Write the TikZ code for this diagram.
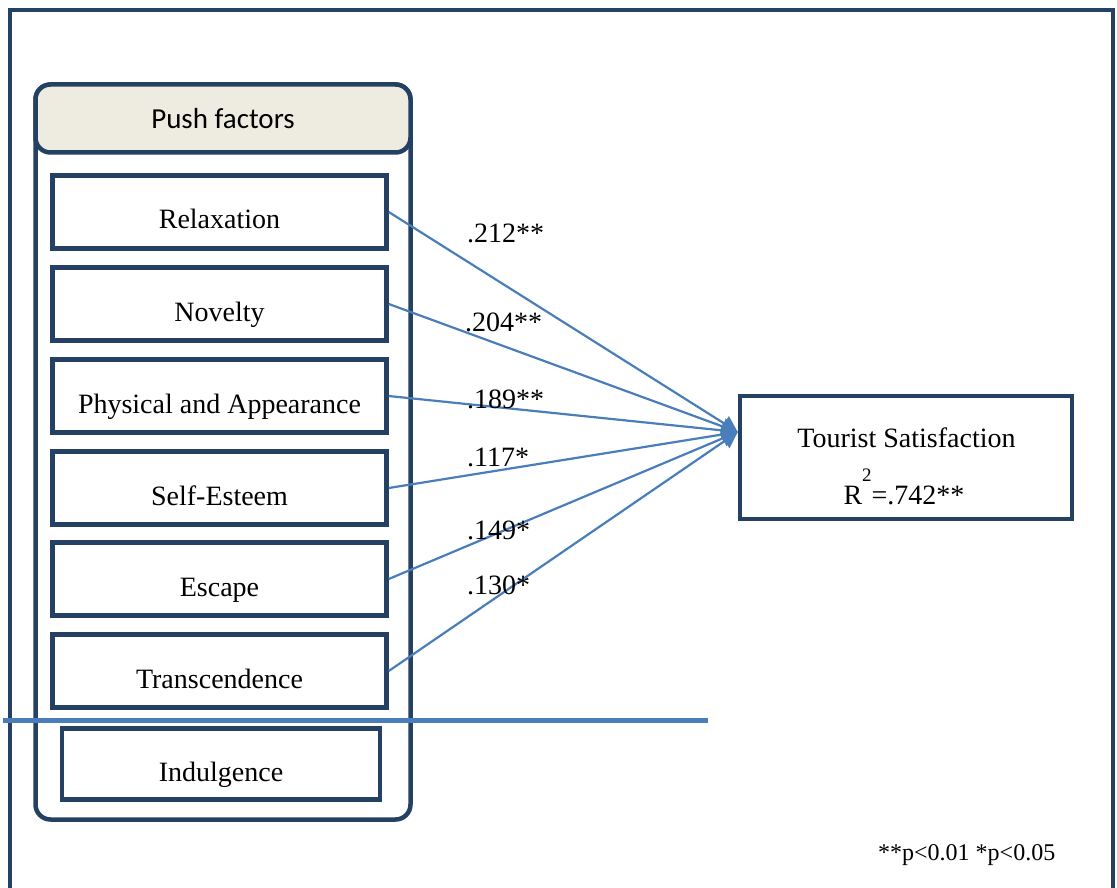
\documentclass[tikz,border=0pt]{standalone}
\usepackage{fontspec}
\setmainfont{Liberation Serif}
\newfontfamily\headfont{Carlito}
\usetikzlibrary{calc,arrows.meta}
\definecolor{navy}{RGB}{36,64,98}
\definecolor{pathblue}{RGB}{74,126,187}
\definecolor{headfill}{RGB}{238,236,225}
\begin{document}
\begin{tikzpicture}[x=1pt,y=-1pt,
  factor/.style={draw=navy, line width=4.5pt, fill=white, minimum width=334pt,
    minimum height=73pt, inner sep=0pt, font=\fontsize{28}{34}\selectfont,
    text height=34pt, text depth=0pt},
  coef/.style={anchor=base west, inner sep=0pt, font=\fontsize{28}{34}\selectfont},
  path/.style={draw=pathblue, line width=2.2pt, -{Triangle[length=16pt,width=17pt]}}]
\useasboundingbox (0,0) rectangle (1117,888);

% outer frame, open at the bottom
\draw[navy, line width=4.5pt] (10,888) -- (10,10) -- (1113,10) -- (1113,888);

% container of the push factors with its header
\draw[navy, line width=4.5pt, rounded corners=15pt] (35.5,84.5) rectangle (410.5,819.5);
\draw[navy, line width=4.5pt, fill=headfill, rounded corners=15pt] (35.5,84.5) rectangle (410.5,152.5);
\node[font=\headfont\fontsize{29}{34}\selectfont] (head) at (223,118.5) {Push factors};

% the factors
\node[factor] (rel) at (219.5,212) {Relaxation};
\node[factor] (nov) at (219.5,304) {Novelty};
\node[factor] (phy) at (219.5,396) {Physical and Appearance};
\node[factor] (est) at (219.5,488) {Self-Esteem};
\node[factor] (esc) at (219.5,579) {Escape};
\node[factor] (tra) at (219.5,671) {Transcendence};

% separating line
\coordinate (sepL) at (3,720.5);
\coordinate (sepR) at (708,720.5);
\draw[pathblue, line width=5pt] (sepL) -- (sepR);

\node[factor, minimum width=318pt, minimum height=71pt] (ind) at (221,764) {Indulgence};

% outcome
\node[draw=navy, line width=4.5pt, minimum width=332pt, minimum height=123pt, inner sep=0pt] (ts) at (906,457.5) {};
\node[anchor=base, inner sep=0pt, font=\fontsize{28}{34}\selectfont] (tsname) at (906.5,447) {Tourist Satisfaction};
\node[anchor=base, inner sep=0pt, font=\fontsize{28}{34}\selectfont] (tsr) at (904,504)
  {R\raisebox{23pt}{\fontsize{19}{19}\selectfont 2}=.742**};

\coordinate (tip) at ($(ts.north west)!0.3!(ts.south west)$);

% paths
\draw[path] (rel.east) -- (tip);
\draw[path] (nov.east) -- (tip);
\draw[path] (phy.east) -- (tip);
\draw[path] (est.east) -- (tip);
\draw[path] (esc.east) -- (tip);
\draw[path] (tra.east) -- (tip);

% coefficients
\node[coef] (c1) at (467,242) {.212**};
\node[coef] (c2) at (465,331.5) {.204**};
\node[coef] (c3) at (467,408) {.189**};
\node[coef] (c4) at (467,466.5) {.117*};
\node[coef] (c5) at (467,539) {.149*};
\node[coef] (c6) at (467,594) {.130*};

% significance note
\node[anchor=base west, inner sep=0pt, font=\fontsize{24}{28}\selectfont] (note) at (878,860) {**p<0.01 *p<0.05};
\end{tikzpicture}
\end{document}
